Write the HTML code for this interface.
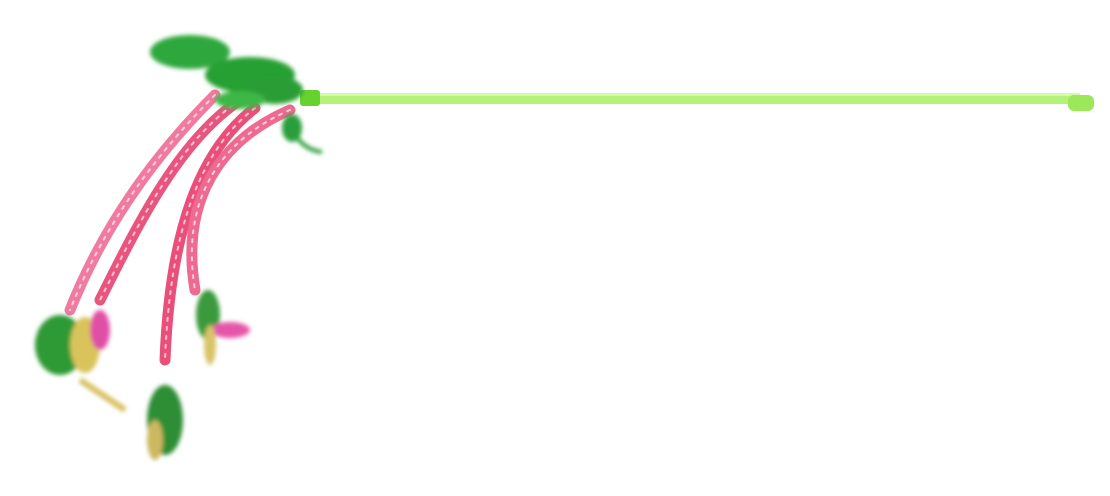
<!DOCTYPE html>
<html><head><meta charset="utf-8"><style>html,body{margin:0;padding:0;background:#fff;width:1110px;height:496px;overflow:hidden}</style></head>
<body>
<svg width="1110" height="496" viewBox="0 0 1110 496" xmlns="http://www.w3.org/2000/svg">
<defs>
<filter id="f" x="-20%" y="-20%" width="140%" height="140%"><feGaussianBlur stdDeviation="2"/></filter>
</defs>
<rect x="310" y="93" width="770" height="11" rx="4" fill="#b5f27a"/>
<rect x="310" y="93" width="770" height="3" fill="#d4fba8"/>
<rect x="1068" y="95" width="26" height="16" rx="6" fill="#9be85a"/>
<rect x="300" y="90" width="20" height="16" rx="3" fill="#66d22e"/>
<g fill="none" stroke-linecap="round">
<path d="M215 95 C170 140 110 210 70 310" stroke="#f07aa0" stroke-width="11"/>
<path d="M240 100 C180 140 140 220 100 300" stroke="#e8557f" stroke-width="11"/>
<path d="M255 108 C200 150 170 230 165 360" stroke="#ea4f7a" stroke-width="11"/>
<path d="M290 110 C220 140 180 200 195 290" stroke="#ee6a90" stroke-width="11"/>
<path d="M215 95 C170 140 110 210 70 310" stroke="#ffd0dc" stroke-width="2" stroke-dasharray="3 6"/>
<path d="M240 100 C180 140 140 220 100 300" stroke="#ffc4d4" stroke-width="2" stroke-dasharray="3 6"/>
<path d="M255 108 C200 150 170 230 165 360" stroke="#ffc4d4" stroke-width="2" stroke-dasharray="3 6"/>
<path d="M290 110 C220 140 180 200 195 290" stroke="#ffd0dc" stroke-width="2" stroke-dasharray="3 6"/>
</g>
<g filter="url(#f)">
<ellipse cx="190" cy="52" rx="40" ry="17" fill="#2fa83c"/>
<ellipse cx="250" cy="75" rx="45" ry="18" fill="#27a033"/>
<ellipse cx="275" cy="90" rx="28" ry="14" fill="#2a9e36"/>
<ellipse cx="240" cy="100" rx="25" ry="9" fill="#3cb846"/>
<ellipse cx="292" cy="128" rx="10" ry="14" fill="#2c9e3a"/>
<path d="M295 135 Q305 150 322 152" stroke="#2c9e3a" stroke-width="4" fill="none"/>
</g>
<g filter="url(#f)">
<ellipse cx="60" cy="345" rx="25" ry="30" fill="#2e9a35"/>
<ellipse cx="85" cy="345" rx="15" ry="28" fill="#d9c45c"/>
<ellipse cx="100" cy="330" rx="10" ry="20" fill="#e04fa6"/>
<path d="M80 380 L125 410" stroke="#d8c060" stroke-width="6"/>
<ellipse cx="165" cy="420" rx="18" ry="35" fill="#2d8e34"/>
<ellipse cx="155" cy="440" rx="8" ry="20" fill="#cdb860"/>
<ellipse cx="208" cy="315" rx="12" ry="25" fill="#3a9a3a"/>
<ellipse cx="230" cy="330" rx="20" ry="8" fill="#e656a8"/>
<ellipse cx="210" cy="345" rx="6" ry="20" fill="#d8c468"/>
</g>
</svg>
</body></html>
